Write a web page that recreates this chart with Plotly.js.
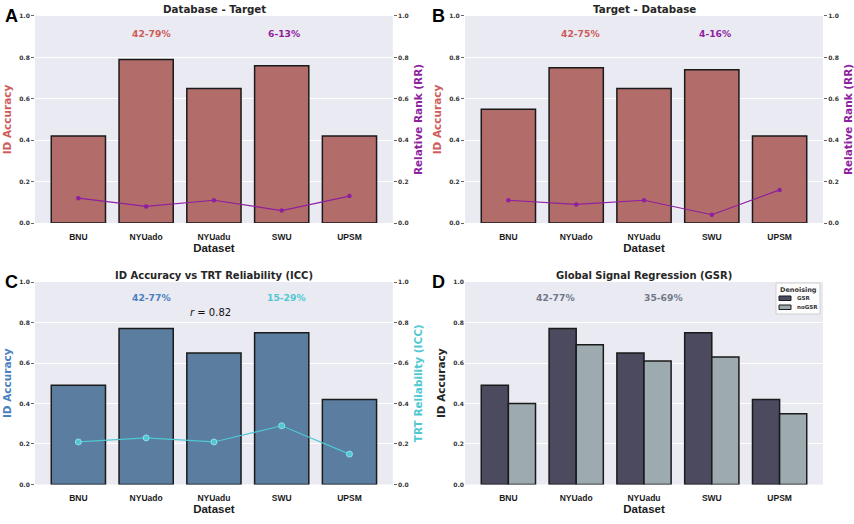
<!DOCTYPE html>
<html>
<head>
<meta charset="utf-8">
<script src="https://cdn.plot.ly/plotly-3.0.1.min.js"></script>
<style>html,body{margin:0;padding:0;background:#fff;}#chart{width:854px;height:524px;}</style>
</head>
<body>
<div id="chart"></div>
<script>
// ---- Data ----
const datasets = ["BNU", "NYUado", "NYUadu", "SWU", "UPSM"];
// Panel A: Database - Target
const accDbTarget = [0.42, 0.79, 0.65, 0.76, 0.42];
const rrDbTarget = [0.12, 0.08, 0.11, 0.06, 0.13];
// Panel B: Target - Database
const accTargetDb = [0.55, 0.75, 0.65, 0.74, 0.42];
const rrTargetDb = [0.11, 0.09, 0.11, 0.04, 0.16];
// Panel C: ID Accuracy vs TRT Reliability
const accICC = [0.49, 0.77, 0.65, 0.75, 0.42];
const iccValues = [0.21, 0.23, 0.21, 0.29, 0.15];
// Panel D: GSR
const accGSR = [0.49, 0.77, 0.65, 0.75, 0.42];
const accNoGSR = [0.40, 0.69, 0.61, 0.63, 0.35];
const denoisingLabels = ["GSR", "noGSR"];
const yTicks = [0, 0.2, 0.4, 0.6, 0.8, 1.0];
const yTickText = ["0.0", "0.2", "0.4", "0.6", "0.8", "1.0"];

// ---- Styles ----
const redBar = "#b26d6b", purple = "#8e1f9e", redText = "#cf5b5b";
const blueBar = "#5b7da0", blueText = "#4a7fc1", cyan = "#4fc8d2";
const gsrCol = "#4b4a5f", noGsrCol = "#9dabb0";
const edge = {color: "#1a1a1a", width: 1.5};
const dv = "DejaVu Sans", lib = "Liberation Sans";

const traces = [
  {type: "bar", x: datasets, y: accDbTarget, xaxis: "x", yaxis: "y", marker: {color: redBar, line: edge}},
  {type: "scatter", mode: "lines+markers", x: datasets, y: rrDbTarget, xaxis: "x", yaxis: "y2", line: {color: purple, width: 1.2}, marker: {color: purple, size: 4.5}},
  {type: "bar", x: datasets, y: accTargetDb, xaxis: "x2", yaxis: "y3", marker: {color: redBar, line: edge}},
  {type: "scatter", mode: "lines+markers", x: datasets, y: rrTargetDb, xaxis: "x2", yaxis: "y4", line: {color: purple, width: 1.2}, marker: {color: purple, size: 4.5}},
  {type: "bar", x: datasets, y: accICC, xaxis: "x3", yaxis: "y5", marker: {color: blueBar, line: edge}},
  {type: "scatter", mode: "lines+markers", x: datasets, y: iccValues, xaxis: "x3", yaxis: "y6", line: {color: cyan, width: 1.2}, marker: {color: cyan, size: 6, line: {color: "#8fe0e6", width: 1}}},
  {type: "bar", name: denoisingLabels[0], x: datasets, y: accGSR, xaxis: "x4", yaxis: "y7", marker: {color: gsrCol, line: edge}},
  {type: "bar", name: denoisingLabels[1], x: datasets, y: accNoGSR, xaxis: "x4", yaxis: "y7", marker: {color: noGsrCol, line: edge}}
];

const xL = [0.041, 0.460], xR = [0.5445, 0.9637];
const yT = [0.5744, 0.9695], yB = [0.0754, 0.4618];

function xax(domain, anchor) {
  return {domain: domain, anchor: anchor, range: [-0.64, 4.64], showgrid: false, zeroline: false,
    tickvals: datasets, ticktext: datasets.map(d => "<b>" + d + "</b>"),
    tickfont: {family: lib, size: 8.5, color: "#1a1a1a"}, ticks: "", ticklabelstandoff: 7,
    title: {text: "<b>Dataset</b>", font: {family: lib, size: 11.5, color: "#1a1a1a"}, standoff: 2}};
}
function yax(domain, anchor, title, color, showTicks) {
  return {domain: domain, anchor: anchor, range: [0, 1], tickvals: yTicks, ticktext: yTickText.map(t => "<b>" + t + "</b>"),
    gridcolor: "#ffffff", gridwidth: 1, zeroline: false, showline: false,
    ticks: showTicks ? "outside" : "", ticklen: 3, tickcolor: "#666", tickwidth: 1,
    tickfont: {family: dv, size: 6, color: "#333"},
    title: {text: "<b>" + title + "</b>", font: {family: dv, size: 10.5, color: color}, standoff: 5}};
}
function y2ax(overlay, anchor, title, color) {
  return {overlaying: overlay, anchor: anchor, side: "right", range: [0, 1], tickvals: yTicks, ticktext: yTickText.map(t => "<b>" + t + "</b>"),
    showgrid: false, zeroline: false, showline: false,
    ticks: "outside", ticklen: 3, tickcolor: "#666", tickwidth: 1,
    tickfont: {family: dv, size: 6, color: "#333"},
    title: {text: "<b>" + title + "</b>", font: {family: dv, size: 10.5, color: color}, standoff: 6}};
}

function ann(text, xref, yref, x, y, color, size, bold) {
  return {text: bold === false ? text : "<b>" + text + "</b>", xref: xref, yref: yref, x: x, y: y,
    showarrow: false, xanchor: "center", yanchor: "middle",
    font: {family: dv, size: size, color: color}};
}
function letter(t, x, y) {
  return {text: "<b>" + t + "</b>", xref: "paper", yref: "paper", x: x, y: y, xanchor: "left", yanchor: "middle",
    showarrow: false, font: {family: lib, size: 18, color: "#000"}};
}

// Manual compact legend (panel D), positioned in pixels -> paper
const W = 854, H = 524;
const px = v => v / W, py = v => 1 - v / H;
const legendShapes = [
  {type: "rect", xref: "paper", yref: "paper", x0: px(776), x1: px(820), y0: py(283), y1: py(314),
    fillcolor: "rgba(255,255,255,0.85)", line: {color: "#d0d0d0", width: 1}},
  {type: "rect", xref: "paper", yref: "paper", x0: px(779), x1: px(791), y0: py(296), y1: py(300.5),
    fillcolor: gsrCol, line: {color: "#1a1a1a", width: 1}},
  {type: "rect", xref: "paper", yref: "paper", x0: px(779), x1: px(791), y0: py(305), y1: py(309.5),
    fillcolor: noGsrCol, line: {color: "#1a1a1a", width: 1}}
];
const legendAnns = [
  {text: "<b>Denoising</b>", xref: "paper", yref: "paper", x: px(798), y: py(289.5), xanchor: "center", yanchor: "middle", showarrow: false, font: {family: dv, size: 6.5, color: "#333"}},
  {text: "<b>" + denoisingLabels[0] + "</b>", xref: "paper", yref: "paper", x: px(795), y: py(298.3), xanchor: "left", yanchor: "middle", showarrow: false, font: {family: dv, size: 5.5, color: "#333"}},
  {text: "<b>" + denoisingLabels[1] + "</b>", xref: "paper", yref: "paper", x: px(795), y: py(307.3), xanchor: "left", yanchor: "middle", showarrow: false, font: {family: dv, size: 5.5, color: "#333"}}
];

const annotations = [
  ann("Database - Target", "paper", "paper", 0.2506, 0.983, "#262626", 10.3),
  ann("Target - Database", "paper", "paper", 0.7541, 0.983, "#262626", 10.3),
  ann("ID Accuracy vs TRT Reliability (ICC)", "paper", "paper", 0.2506, 0.475, "#262626", 10),
  ann("Global Signal Regression (GSR)", "paper", "paper", 0.7541, 0.475, "#262626", 10),
  letter("A", 0.004, 0.97), letter("B", 0.503, 0.97), letter("C", 0.004, 0.462), letter("D", 0.503, 0.462),
  ann("42-79%", "x domain", "y domain", 0.326, 0.916, redText, 9.2),
  ann("6-13%", "x domain", "y domain", 0.696, 0.916, purple, 9.2),
  ann("42-75%", "x2 domain", "y3 domain", 0.324, 0.916, redText, 9.2),
  ann("4-16%", "x2 domain", "y3 domain", 0.697, 0.916, purple, 9.2),
  ann("42-77%", "x3 domain", "y5 domain", 0.326, 0.922, blueText, 9.2),
  ann("15-29%", "x3 domain", "y5 domain", 0.704, 0.922, cyan, 9.2),
  ann("<i>r</i> = 0.82", "x3 domain", "y5 domain", 0.49, 0.85, "#111", 10, false),
  ann("42-77%", "x4 domain", "y7 domain", 0.254, 0.922, "#707888", 9.2),
  ann("35-69%", "x4 domain", "y7 domain", 0.554, 0.922, "#707888", 9.2)
].concat(legendAnns);

const layout = {
  width: W, height: H,
  margin: {l: 0, r: 0, t: 0, b: 0},
  paper_bgcolor: "#ffffff", plot_bgcolor: "#eaeaf2",
  showlegend: false,
  barmode: "group", bargap: 0.2, bargroupgap: 0,
  xaxis: xax(xL, "y"),
  yaxis: yax(yT, "x", "ID Accuracy", redText, true),
  yaxis2: y2ax("y", "x", "Relative Rank (RR)", purple),
  xaxis2: xax(xR, "y3"),
  yaxis3: yax(yT, "x2", "ID Accuracy", redText, true),
  yaxis4: y2ax("y3", "x2", "Relative Rank (RR)", purple),
  xaxis3: xax(xL, "y5"),
  yaxis5: yax(yB, "x3", "ID Accuracy", blueText, true),
  yaxis6: y2ax("y5", "x3", "TRT Reliability (ICC)", cyan),
  xaxis4: xax(xR, "y7"),
  yaxis7: yax(yB, "x4", "ID Accuracy", "#262626", false),
  shapes: legendShapes,
  annotations: annotations,
  font: {family: dv}
};

Plotly.newPlot("chart", traces, layout, {displayModeBar: false, staticPlot: true});
</script>
</body>
</html>
